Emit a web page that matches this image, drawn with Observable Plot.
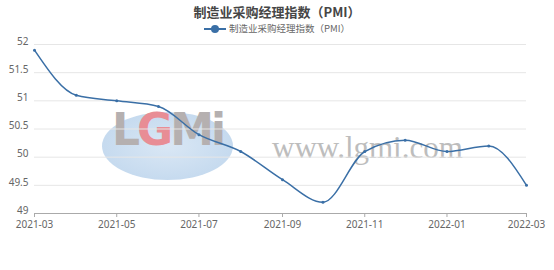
<!DOCTYPE html>
<html><head><meta charset="utf-8">
<script src="https://cdn.jsdelivr.net/npm/d3@7"></script>
<script src="https://cdn.jsdelivr.net/npm/@observablehq/plot@0.6"></script>
<style>
body{margin:0;background:#fff;font-family:"Noto Sans CJK SC","Noto Sans",sans-serif;}
#wrap{position:relative;width:554px;height:270px;overflow:hidden;}
#title{position:absolute;top:2px;left:0;width:554px;text-align:center;font-size:13px;font-weight:bold;color:#464646;}
#legend{position:absolute;top:21px;left:0;width:554px;text-align:center;font-size:9.5px;color:#666;}
#legend svg{vertical-align:middle;margin-right:3px;}
#chart{position:absolute;top:30px;left:0;}
#wm{position:absolute;left:0;top:0;width:554px;height:270px;pointer-events:none;}
.ell{position:absolute;left:102px;top:112px;width:131px;height:68px;border-radius:50%;background:radial-gradient(ellipse at center,#d3e3f3 0%,#bcd4ec 70%,#e6eff8 100%);opacity:.85;}
.lg{position:absolute;left:112px;top:104px;font-family:"DejaVu Sans",sans-serif;font-weight:bold;font-size:44px;color:#b5b0b0;letter-spacing:-3px;}
.url{position:absolute;left:272px;top:130px;font-family:"Liberation Serif",serif;font-size:31px;color:#bdbdbd;}
</style></head>
<body><div id="wrap">
<div id="wm"><div class="ell"></div><div class="lg">L<span style="color:#e88d95">G</span>Mi</div><div class="url">www.lgmi.com</div></div>
<div id="title">制造业采购经理指数（PMI）</div>
<div id="legend"><svg width="22" height="10"><line x1="0" y1="5" x2="22" y2="5" stroke="#3a6fa6" stroke-width="2"/><circle cx="11" cy="5" r="4" fill="#3a6fa6"/></svg>制造业采购经理指数（PMI）</div>
<div id="chart"></div>
</div>
<script>
const months = ["2021-03","2021-04","2021-05","2021-06","2021-07","2021-08","2021-09","2021-10","2021-11","2021-12","2022-01","2022-02","2022-03"];
const pmi = [51.9,51.1,51.0,50.9,50.4,50.1,49.6,49.2,50.1,50.3,50.1,50.2,49.5];
const yTicks = [49,49.5,50,50.5,51,51.5,52];
const data = months.map((m,i)=>({date:new Date(m+"-01T00:00:00Z"), value:pmi[i]}));
const xTicks = months.filter((m,i)=>i%2===0).map(m=>new Date(m+"-01T00:00:00Z"));
const color = "#3a6fa6";
const chart = Plot.plot({
  width:554, height:240,
  marginTop:14, marginBottom:57, marginLeft:34, marginRight:28,
  style:{background:"transparent",fontFamily:"'Noto Sans','Open Sans',sans-serif",fontSize:"10px",color:"#666"},
  x:{type:"utc",domain:[data[0].date,data[data.length-1].date]},
  y:{domain:[49,52]},
  marks:[
    Plot.gridY(yTicks,{stroke:"#e6e6e6",strokeOpacity:1}),
    Plot.line(data,{x:"date",y:"value",stroke:color,strokeWidth:1.5,curve:"monotone-x"}),
    Plot.dot(data,{x:"date",y:"value",fill:color,r:1.5}),
    Plot.ruleY([49],{stroke:"#aaa"}),
    Plot.axisX(xTicks,{tickFormat:d3.utcFormat("%Y-%m"),tickSize:4,stroke:"#aaa",fill:"#666",fontSize:10,tickPadding:3,label:null}),
    Plot.axisY(yTicks,{tickFormat:d=>String(d),tickSize:0,tickPadding:6,dy:-3,fill:"#666",fontSize:10,label:null})
  ]
});
document.getElementById("chart").appendChild(chart);
</script>
</body></html>
